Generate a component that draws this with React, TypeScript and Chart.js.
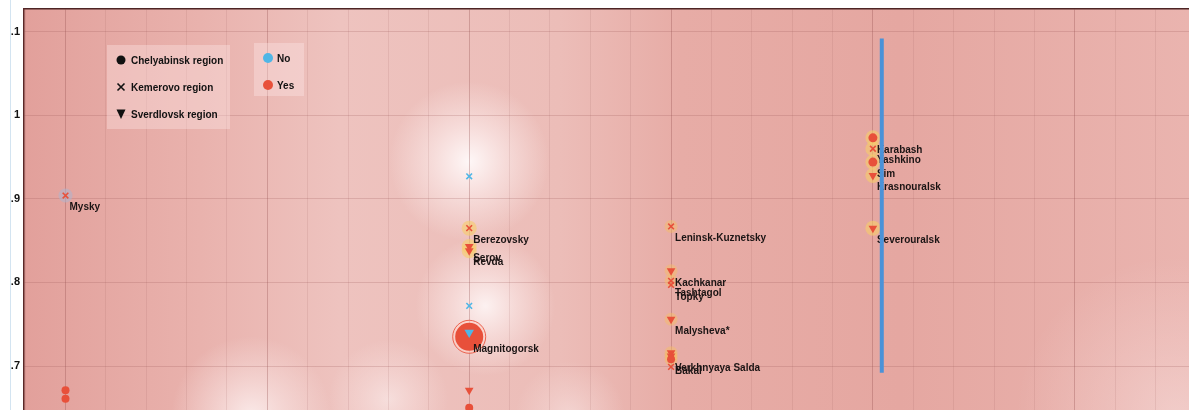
import React, { useEffect, useRef } from 'react';
import { Chart, registerables } from 'chart.js';
Chart.register(...registerables);

// ---------- data ----------
const cityNames = ['Mysky', '', '', '', 'Berezovsky', 'Serov', 'Revda', '', 'Magnitogorsk', '', '', '', 'Leninsk-Kuznetsky', 'Kachkanar', 'Tashtagol', 'Topky', 'Malysheva*', '', 'Verkhnyaya Salda', 'Bakal', '', 'Karabash', 'Yashkino', 'Sim', 'Krasnouralsk', 'Severouralsk'];
const cityX = [0, 0, 0, 10, 10, 10, 10, 10, 10, 10, 10, 10, 15, 15, 15, 15, 15, 15, 15, 15, 15, 20, 20, 20, 20, 20];
const cityY = [0.904, 0.671, 0.661, 0.927, 0.865, 0.843, 0.838, 0.772, 0.735, 0.740, 0.671, 0.650, 0.867, 0.814, 0.802, 0.797, 0.756, 0.716, 0.712, 0.708, 0.699, 0.973, 0.960, 0.944, 0.928, 0.865];
const cityRegion = ['K', 'C', 'C', 'K', 'K', 'S', 'S', 'K', 'C', 'S', 'S', 'C', 'K', 'S', 'K', 'K', 'S', 'S', 'S', 'C', 'K', 'C', 'K', 'C', 'S', 'S'];
const cityAnswer = ['Yes', 'Yes', 'Yes', 'No', 'Yes', 'Yes', 'Yes', 'No', 'Yes', 'No', 'Yes', 'Yes', 'Yes', 'Yes', 'Yes', 'Yes', 'Yes', 'Yes', 'Yes', 'Yes', 'Yes', 'Yes', 'Yes', 'Yes', 'Yes', 'Yes'];
const citySize = [4, 4, 4, 4, 4, 5, 5, 4, 14, 5.5, 5, 4, 4, 5, 4, 4, 5, 5, 5, 4, 4, 4.5, 4, 4.5, 5, 5];
const cityHalo = ['grey', '', '', '', 'gold', 'gold', 'gold', '', 'ring', '', '', '', 'faint', 'faint', 'faint', '', 'faint', 'faint', 'faint', 'faint', '', 'gold', 'gold', 'gold', 'gold', 'gold'];

const markerLineX = [20.22, 20.22];
const markerLineY = [1.092, 0.692];

const yTickValues = [1.1, 1.0, 0.9, 0.8, 0.7];
const yTickLabels = ['1.1', '1', '0.9', '0.8', '0.7'];

const regionKeys = ['C', 'K', 'S'];
const regionLabels = ['Chelyabinsk region', 'Kemerovo region', 'Sverdlovsk region'];
const answerKeys = ['No', 'Yes'];
const answerLabels = ['No', 'Yes'];

// background glow spots (data coordinates) – decorative heat map
const glowX = [10.0, 10.4, 4.6, 8.0, 12.5, 27.5];
const glowY = [0.945, 0.772, 0.64, 0.66, 0.64, 0.64];
const glowR = [80, 70, 80, 60, 55, 160];
const glowA = [0.95, 0.85, 0.75, 0.5, 0.4, 0.35];

// ---------- styles ----------
const answerColor: Record<string, string> = { No: '#4fb6e6', Yes: '#e8503a' };
const regionStyle: Record<string, string> = { C: 'circle', K: 'crossRot', S: 'triangle' };
const haloStyle: Record<string, { r: number; bg: string; bd: string; bw: number }> = {
  grey: { r: 7, bg: 'rgba(175,180,205,0.55)', bd: 'rgba(0,0,0,0)', bw: 0 },
  gold: { r: 7.5, bg: 'rgba(247,205,105,0.6)', bd: 'rgba(0,0,0,0)', bw: 0 },
  faint: { r: 6.5, bg: 'rgba(247,190,100,0.45)', bd: 'rgba(0,0,0,0)', bw: 0 },
  ring: { r: 16.5, bg: 'rgba(255,205,195,0.55)', bd: 'rgba(232,80,58,0.85)', bw: 1 },
};
const FONT = '"Liberation Sans", Arial, sans-serif';

export default function App() {
  const ref = useRef<HTMLCanvasElement | null>(null);

  useEffect(() => {
    document.body.style.margin = '0';
    const canvas = ref.current!;

    const idx = cityNames.map((_, i) => i);
    const haloIdx = idx.filter((i) => cityHalo[i] !== '');

    const markerSets: any[] = [];
    for (const a of answerKeys) {
      for (const r of regionKeys) {
        const ids = idx.filter((i) => cityRegion[i] === r && cityAnswer[i] === a);
        if (!ids.length) continue;
        const col = answerColor[a];
        markerSets.push({
          label: `${r}-${a}`,
          data: ids.map((i) => ({ x: cityX[i], y: cityY[i] })),
          pointStyle: regionStyle[r],
          rotation: r === 'S' ? 180 : 0,
          pointRadius: ids.map((i) => citySize[i]),
          backgroundColor: col,
          borderColor: col,
          borderWidth: r === 'K' ? 1.6 : 0,
        });
      }
    }

    const datasets: any[] = [
      {
        label: 'marker',
        data: markerLineX.map((x, i) => ({ x, y: markerLineY[i] })),
        showLine: true,
        borderColor: '#4a92d8',
        borderWidth: 4,
        pointRadius: 0,
      },
      ...markerSets,
      {
        label: 'halo',
        data: haloIdx.map((i) => ({ x: cityX[i], y: cityY[i] })),
        pointStyle: 'circle',
        pointRadius: haloIdx.map((i) => haloStyle[cityHalo[i]].r),
        backgroundColor: haloIdx.map((i) => haloStyle[cityHalo[i]].bg),
        borderColor: haloIdx.map((i) => haloStyle[cityHalo[i]].bd),
        borderWidth: haloIdx.map((i) => haloStyle[cityHalo[i]].bw),
      },
    ];

    const bgPlugin = {
      id: 'heatbg',
      beforeDraw(chart: any) {
        const { ctx, chartArea: ca, scales } = chart;
        ctx.save();
        ctx.beginPath();
        ctx.rect(ca.left, ca.top, ca.right - ca.left, ca.bottom - ca.top);
        ctx.clip();
        const g = ctx.createLinearGradient(ca.left, 0, ca.right, 0);
        const w = ca.right - ca.left;
        const stop = (px: number, c: string) => g.addColorStop(Math.min(1, Math.max(0, (px - ca.left) / w)), c);
        stop(24, '#e2a09b');
        stop(200, '#e9b2ad');
        stop(340, '#eec3bf');
        stop(560, '#ecbdb8');
        stop(680, '#e7aca6');
        stop(900, '#e5a7a1');
        stop(1189, '#eab4af');
        ctx.fillStyle = g;
        ctx.fillRect(ca.left, ca.top, w, ca.bottom - ca.top);
        for (let i = 0; i < glowX.length; i++) {
          const cx = scales.x.getPixelForValue(glowX[i]);
          const cy = scales.y.getPixelForValue(glowY[i]);
          const rg = ctx.createRadialGradient(cx, cy, 0, cx, cy, glowR[i]);
          rg.addColorStop(0, `rgba(255,250,250,${glowA[i]})`);
          rg.addColorStop(0.45, `rgba(255,245,245,${glowA[i] * 0.55})`);
          rg.addColorStop(1, 'rgba(255,245,245,0)');
          ctx.fillStyle = rg;
          ctx.fillRect(cx - glowR[i], cy - glowR[i], glowR[i] * 2, glowR[i] * 2);
        }
        ctx.restore();
      },
    };

    const labelPlugin = {
      id: 'citylabels',
      beforeDatasetDraw(chart: any, args: any) {
        if (args.index !== 0) return;
        const { ctx, scales } = chart;
        ctx.save();
        ctx.font = `bold 10px ${FONT}`;
        ctx.fillStyle = '#1b1414';
        ctx.textAlign = 'left';
        ctx.textBaseline = 'middle';
        idx.forEach((i) => {
          if (!cityNames[i]) return;
          const px = scales.x.getPixelForValue(cityX[i]);
          const py = scales.y.getPixelForValue(cityY[i]);
          ctx.fillText(cityNames[i], px + 4, py + 12);
        });
        ctx.restore();
      },
    };

    const legendPlugin = {
      id: 'customLegend',
      afterDraw(chart: any) {
        const ctx = chart.ctx;
        ctx.save();
        ctx.fillStyle = 'rgba(255,235,235,0.35)';
        ctx.fillRect(107, 45, 123, 84);
        ctx.fillRect(254, 43, 50, 53);
        ctx.font = `bold 10px ${FONT}`;
        ctx.textBaseline = 'middle';
        ctx.textAlign = 'left';
        regionLabels.forEach((lab, i) => {
          const y = 60 + i * 27;
          const x = 121;
          ctx.fillStyle = '#111';
          ctx.strokeStyle = '#111';
          if (regionKeys[i] === 'C') {
            ctx.beginPath();
            ctx.arc(x, y, 4.5, 0, Math.PI * 2);
            ctx.fill();
          } else if (regionKeys[i] === 'K') {
            ctx.lineWidth = 1.6;
            ctx.beginPath();
            ctx.moveTo(x - 3.5, y - 3.5);
            ctx.lineTo(x + 3.5, y + 3.5);
            ctx.moveTo(x + 3.5, y - 3.5);
            ctx.lineTo(x - 3.5, y + 3.5);
            ctx.stroke();
          } else {
            ctx.beginPath();
            ctx.moveTo(x - 4.5, y - 4.5);
            ctx.lineTo(x + 4.5, y - 4.5);
            ctx.lineTo(x, y + 5);
            ctx.closePath();
            ctx.fill();
          }
          ctx.fillText(lab, 131, y + 1);
        });
        answerLabels.forEach((lab, i) => {
          const y = 58 + i * 27;
          ctx.fillStyle = answerColor[answerKeys[i]];
          ctx.beginPath();
          ctx.arc(268, y, 5, 0, Math.PI * 2);
          ctx.fill();
          ctx.fillStyle = '#111';
          ctx.fillText(lab, 277, y + 1);
        });
        ctx.restore();
      },
    };

    const chart = new Chart(canvas, {
      type: 'scatter',
      data: { datasets },
      plugins: [bgPlugin, labelPlugin, legendPlugin],
      options: {
        animation: false,
        responsive: false,
        maintainAspectRatio: false,
        layout: { autoPadding: false, padding: { top: 9, left: 0, right: 0, bottom: 0 } },
        plugins: { legend: { display: false }, tooltip: { enabled: false } },
        scales: {
          x: {
            type: 'linear',
            position: 'top',
            min: -1.028,
            max: 27.83,
            afterFit: (s: any) => { s.height = 0; s.paddingLeft = 0; s.paddingRight = 0; },
            afterBuildTicks: (s: any) => {
              const t: any[] = [];
              for (let v = Math.ceil(s.min); v <= s.max; v++) t.push({ value: v });
              s.ticks = t;
            },
            ticks: { display: false },
            grid: {
              drawTicks: false,
              color: (c: any) => (c.tick && c.tick.value % 5 === 0 ? 'rgba(140,70,70,0.30)' : 'rgba(150,85,85,0.13)'),
              lineWidth: 1,
            },
            border: { display: true, color: '#4d2525', width: 1.5 },
          },
          y: {
            type: 'linear',
            min: 0.6474,
            max: 1.1272,
            afterFit: (s: any) => { s.width = 24; s.paddingTop = 0; s.paddingBottom = 0; },
            afterBuildTicks: (s: any) => {
              s.ticks = yTickValues.map((v) => ({ value: v }));
            },
            ticks: {
              padding: 4,
              color: '#111',
              font: { family: FONT, size: 11, weight: 'bold' },
              callback: (v: any) => {
                const k = yTickValues.findIndex((t) => Math.abs(t - Number(v)) < 1e-6);
                return k >= 0 ? yTickLabels[k] : '';
              },
            },
            grid: { drawTicks: false, color: 'rgba(150,80,80,0.22)', lineWidth: 1 },
            border: { display: true, color: '#5a2828', width: 1.5 },
          },
        },
      } as any,
    });
    return () => chart.destroy();
  }, []);

  return (
    <div style={{ position: 'absolute', left: 0, top: 0, width: 1189, height: 410, overflow: 'hidden', background: '#fff' }}>
      <canvas ref={ref} width={1189} height={410} style={{ position: 'absolute', left: 0, top: 0, width: 1189, height: 410 }} />
      <div style={{ position: 'absolute', left: 0, top: 0, width: 10, height: 410, background: '#fff', borderRight: '1.5px solid #d3e4f1' }} />
    </div>
  );
}
